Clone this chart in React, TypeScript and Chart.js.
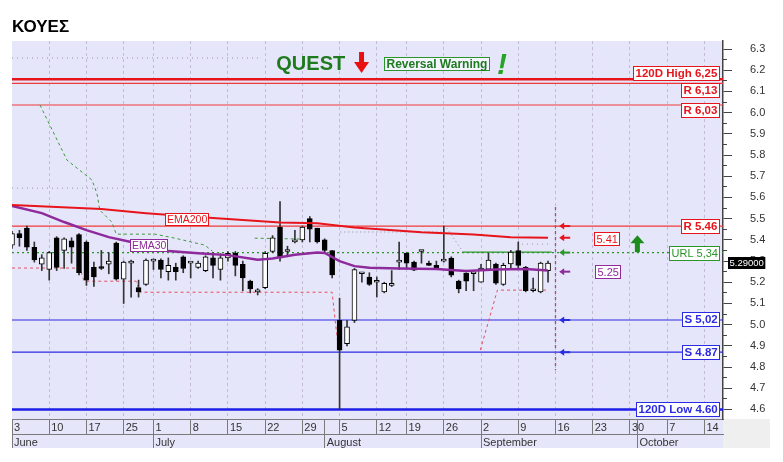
import React, { useEffect, useRef } from 'react';
import { Chart, registerables } from 'chart.js';

Chart.register(...registerables);

// ---------------- data ----------------
const TITLE = 'ΚΟΥΕΣ';

// trading calendar (Athens exchange, 2024)
const FIRST_DAY = '2024-06-03';
const LAST_AXIS_DAY = '2024-10-18';
const HOLIDAYS = ['2024-06-24', '2024-08-15'];
const MONTH_NAMES = ['January', 'February', 'March', 'April', 'May', 'June', 'July', 'August', 'September', 'October', 'November', 'December'];

// daily candles, 3 Jun .. 13 Sep
const open = [5.375, 5.43, 5.455, 5.365, 5.285, 5.26, 5.41, 5.35, 5.395, 5.425,
  5.39, 5.27, 5.27, 5.285, 5.385, 5.215, 5.29, 5.175, 5.19, 5.30,
  5.305, 5.25, 5.27, 5.32, 5.29, 5.27, 5.255, 5.315, 5.26, 5.315,
  5.337, 5.285, 5.205, 5.155, 5.175, 5.345, 5.46, 5.345, 5.39, 5.40,
  5.50, 5.455, 5.40, 5.35, 5.02, 4.91, 5.02, 5.24, 5.225, 5.20,
  5.155, 5.185, 5.295, 5.337, 5.295, 5.345, 5.29, 5.28, 5.30, 5.314,
  5.205, 5.243, 5.24, 5.20, 5.262, 5.286, 5.19, 5.286, 5.35, 5.27,
  5.16, 5.155, 5.255];
const high = [5.44, 5.445, 5.465, 5.39, 5.33, 5.345, 5.415, 5.41, 5.41, 5.43,
  5.395, 5.295, 5.35, 5.34, 5.39, 5.30, 5.305, 5.21, 5.31, 5.31,
  5.31, 5.315, 5.29, 5.325, 5.295, 5.30, 5.325, 5.34, 5.335, 5.345,
  5.345, 5.30, 5.21, 5.17, 5.345, 5.42, 5.58, 5.37, 5.445, 5.465,
  5.51, 5.455, 5.405, 5.35, 5.125, 5.02, 5.265, 5.245, 5.245, 5.225,
  5.20, 5.255, 5.39, 5.34, 5.30, 5.35, 5.30, 5.30, 5.465, 5.32,
  5.21, 5.245, 5.245, 5.285, 5.337, 5.29, 5.29, 5.35, 5.39, 5.275,
  5.22, 5.295, 5.30];
const low = [5.36, 5.37, 5.35, 5.295, 5.255, 5.21, 5.255, 5.265, 5.29, 5.235,
  5.185, 5.18, 5.26, 5.24, 5.21, 5.10, 5.13, 5.13, 5.185, 5.26,
  5.22, 5.21, 5.21, 5.245, 5.22, 5.265, 5.25, 5.22, 5.21, 5.30,
  5.23, 5.16, 5.15, 5.14, 5.17, 5.34, 5.30, 5.32, 5.385, 5.39,
  5.39, 5.385, 5.34, 5.22, 4.60, 4.90, 5.01, 5.20, 5.185, 5.13,
  5.15, 5.18, 5.26, 5.265, 5.255, 5.29, 5.28, 5.26, 5.295, 5.225,
  5.15, 5.16, 5.16, 5.20, 5.255, 5.19, 5.185, 5.265, 5.26, 5.155,
  5.155, 5.15, 5.20];
const close = [5.43, 5.41, 5.365, 5.305, 5.315, 5.34, 5.27, 5.405, 5.365, 5.245,
  5.21, 5.225, 5.265, 5.30, 5.215, 5.295, 5.30, 5.155, 5.305, 5.305,
  5.26, 5.28, 5.25, 5.265, 5.29, 5.29, 5.32, 5.28, 5.315, 5.337,
  5.28, 5.22, 5.168, 5.155, 5.337, 5.41, 5.315, 5.345, 5.40, 5.46,
  5.45, 5.39, 5.35, 5.235, 4.88, 4.99, 5.26, 5.24, 5.19, 5.20,
  5.195, 5.185, 5.30, 5.29, 5.257, 5.345, 5.28, 5.26, 5.30, 5.234,
  5.168, 5.205, 5.24, 5.267, 5.305, 5.196, 5.28, 5.342, 5.28, 5.16,
  5.16, 5.29, 5.29];

// moving averages, [session index, value]
const ema200 = [[0, 5.565], [6, 5.555], [12, 5.545], [18, 5.526], [27, 5.503], [36, 5.482], [41, 5.478],
  [46, 5.458], [55, 5.436], [62, 5.425], [67, 5.412], [72, 5.41]];
const ema30 = [[0, 5.56], [4, 5.526], [7, 5.484], [10, 5.446], [13, 5.413], [16, 5.39], [18, 5.375],
  [21, 5.347], [25, 5.337], [29, 5.328], [33, 5.306], [35, 5.312], [38, 5.33], [41, 5.34], [42, 5.338],
  [44, 5.30], [46, 5.276], [48, 5.268], [52, 5.265], [57, 5.262], [61, 5.253], [65, 5.26], [69, 5.262], [72, 5.256]];

// trailing stops, [session index, value]
const upperStopA = [[3.76, 6.036], [7.39, 5.776], [10.75, 5.682], [11.4, 5.62], [11.8, 5.54], [13.4, 5.484],
  [14.0, 5.427], [19.2, 5.427], [21.9, 5.408], [25.9, 5.375], [26.9, 5.347]];
const upperStopB = [[32.6, 5.408], [38.7, 5.404]];
const upperStopIdle = [[44.1, 5.437], [57.9, 5.437], [58.4, 5.455], [60.6, 5.342]];
const upperStopActive = [[60.6, 5.342], [72.5, 5.342]];
const lowerStopA = [[0, 5.267], [9.13, 5.267], [9.67, 5.205], [16.66, 5.205], [17.2, 5.153], [43.0, 5.153],
  [43.4, 5.021], [43.8, 4.903]];
const lowerStopB = [[62.9, 4.88], [65.2, 5.163], [72.0, 5.163]];
const oldLevelHigh = [[0, 6.258], [33.5, 6.258]];
const oldLevelMid = [[0, 5.644], [43.0, 5.644]];
const oldLevelNow = [[68.5, 5.38], [72.0, 5.38]];

// horizontal levels
const levelNames = ['120D High 6,25', 'R 6,13', 'R 6,03', 'R 5.46', 'URL 5,34', 'S 5,02', 'S 4.87', '120D Low 4.60'];
const levelValues = [6.158, 6.138, 6.036, 5.465, 5.34, 5.022, 4.87, 4.60];

// current values of indicators
const ema200Now = 5.41;
const ema30Now = 5.25;
const signalText = 'QUEST';
const warningText = 'Reversal Warning';

// ---------------- helpers ----------------
const FONT = "'Liberation Sans', Arial, Helvetica, sans-serif";
Chart.defaults.font.family = FONT;

function buildCalendar() {
  const days: Date[] = [];
  let t = Date.parse(FIRST_DAY + 'T00:00:00Z');
  const end = Date.parse(LAST_AXIS_DAY + 'T00:00:00Z');
  while (t <= end) {
    const d = new Date(t);
    const wd = d.getUTCDay();
    const iso = d.toISOString().slice(0, 10);
    if (wd !== 0 && wd !== 6 && !HOLIDAYS.includes(iso)) days.push(d);
    t += 86400000;
  }
  return days;
}

function tag(ctx: CanvasRenderingContext2D, text: string, font: string, color: string, border: string, bg: string,
  xRef: number, align: 'left' | 'right' | 'center', yc: number, padX = 2, h = 14) {
  ctx.font = font;
  const w = Math.round(ctx.measureText(text).width + padX * 2);
  let left = align === 'left' ? xRef : align === 'right' ? xRef - w : xRef - w / 2;
  left = Math.round(left) + 0.5;
  const top = Math.round(yc - h / 2) + 0.5;
  ctx.fillStyle = bg;
  ctx.fillRect(left, top, w, h);
  ctx.strokeStyle = border;
  ctx.lineWidth = 1;
  ctx.strokeRect(left, top, w, h);
  ctx.fillStyle = color;
  ctx.textBaseline = 'middle';
  ctx.textAlign = 'left';
  ctx.fillText(text, left + padX, top + h / 2 + 0.5);
}

function leftArrow(ctx: CanvasRenderingContext2D, xTip: number, yc: number, color: string) {
  ctx.fillStyle = color;
  ctx.beginPath();
  ctx.moveTo(xTip, yc);
  ctx.lineTo(xTip + 5, yc - 3.5);
  ctx.lineTo(xTip + 5, yc + 3.5);
  ctx.closePath();
  ctx.fill();
  ctx.fillRect(xTip + 4, yc - 1, 7, 2);
}

const RED = '#E8141C';
const RED_THIN = '#F03838';
const BLUE = '#2B2BE3';
const GREEN = '#2A962A';
const DKGREEN = '#1D7A1D';
const PURPLE = '#8E2A9C';

export default function App() {
  const ref = useRef<HTMLCanvasElement>(null);

  useEffect(() => {
    const calendar = buildCalendar();
    const sessions = calendar.slice(0, close.length).map((d) => d.toISOString().slice(0, 10));

    const dayTicks: number[] = [];
    const dayLabels = new Map<number, string>();
    const monthTicks: number[] = [];
    const monthLabels = new Map<number, string>();
    calendar.forEach((d, i) => {
      const prev = calendar[i - 1];
      const newWeek = !prev || d.getUTCDay() <= prev.getUTCDay() || d.getTime() - prev.getTime() > 4 * 86400000;
      const newMonth = !prev || d.getUTCMonth() !== prev.getUTCMonth();
      if (newWeek) { dayTicks.push(i); dayLabels.set(i, String(d.getUTCDate())); }
      if (newMonth) { monthTicks.push(i); monthLabels.set(i, MONTH_NAMES[d.getUTCMonth()]); }
    });
    const weekSet = new Set(dayTicks);
    const allDayTicks = Array.from(new Set([...dayTicks, ...monthTicks])).sort((a, b) => a - b);

    const X_MAX = 95.5;
    const Y_MIN = 4.555;
    const Y_MAX = 6.338;

    const wickData = sessions.map((_, i) => ({ x: i, y: [low[i], high[i]] }));
    const bodyData = sessions.map((_, i) => ({ x: i, y: [Math.min(open[i], close[i]), Math.max(open[i], close[i])] }));
    const bodyColors = sessions.map((_, i) => (close[i] >= open[i] ? '#ffffff' : '#000000'));

    const line = (pts: number[][], color: string, width: number, dash: number[], order = 10) => ({
      type: 'line',
      data: pts.map(([x, y]) => ({ x, y })),
      borderColor: color,
      borderWidth: width,
      borderDash: dash,
      pointRadius: 0,
      fill: false,
      tension: 0,
      order,
      xAxisID: 'x',
      yAxisID: 'y',
    });

    const levelStyle = [
      { color: RED, width: 2.5, dash: [] as number[] },
      { color: RED_THIN, width: 1.2, dash: [] },
      { color: RED_THIN, width: 1.2, dash: [] },
      { color: RED_THIN, width: 1.2, dash: [] },
      { color: GREEN, width: 1.2, dash: [2, 3] },
      { color: BLUE, width: 1.2, dash: [] },
      { color: BLUE, width: 1.2, dash: [] },
      { color: '#1E1EE8', width: 2.5, dash: [] },
    ];

    const datasets: any[] = [
      ...levelValues.map((v, k) => line([[0, v], [X_MAX, v]], levelStyle[k].color, levelStyle[k].width, levelStyle[k].dash, 12)),
      line(oldLevelHigh, '#9C90B0', 1, [1, 4], 11),
      line(oldLevelMid, '#9C90B0', 1, [1, 4], 11),
      line(oldLevelNow, '#9C90B0', 1, [1, 4], 11),
      line(upperStopA, '#3C9A3C', 1, [3, 3], 11),
      line(upperStopB, '#3C9A3C', 1, [3, 3], 11),
      line(upperStopIdle, '#8C8C9C', 1, [1, 3], 11),
      line(upperStopActive, '#2A962A', 1.3, [], 11),
      line(lowerStopA, '#E25060', 1, [3, 3], 11),
      line(lowerStopB, '#E25060', 1, [3, 3], 11),
      {
        type: 'bar', data: wickData, backgroundColor: '#333333', borderWidth: 0,
        barThickness: 1, grouped: false, order: 6, xAxisID: 'x', yAxisID: 'y',
      },
      {
        type: 'bar', data: bodyData, backgroundColor: bodyColors, borderColor: '#000000', borderWidth: 1,
        borderSkipped: false, barThickness: 5, minBarLength: 2, grouped: false, order: 5, xAxisID: 'x', yAxisID: 'y',
      },
      line(ema200, RED, 2, [], 2),
      line(ema30, PURPLE, 2.5, [], 2),
      line([[close.length, 5.555], [close.length, 4.785]], '#A0507C', 1.3, [3, 3], 1),
    ];

    const bgPlugin = {
      id: 'bgPlugin',
      beforeDraw(chart: any) {
        const { ctx, chartArea: a } = chart;
        const x2 = chart.scales.x2;
        ctx.save();
        ctx.fillStyle = '#ffffff';
        ctx.fillRect(0, 0, chart.width, chart.height);
        ctx.fillStyle = '#E6E6FA';
        ctx.fillRect(a.left, a.top, a.right - a.left, x2.bottom - a.top);
        ctx.fillStyle = '#EFEFEF';
        ctx.fillRect(a.right, a.bottom, 47, x2.bottom - a.bottom);
        ctx.restore();
      },
    };

    const annoPlugin = {
      id: 'annoPlugin',
      afterDatasetsDraw(chart: any) {
        const { ctx, chartArea: a, scales } = chart;
        const xs = scales.x;
        const ys = scales.y;
        const px = (i: number) => xs.getPixelForValue(i);
        const py = (v: number) => ys.getPixelForValue(v);
        ctx.save();

        // level labels at right edge
        const lvl = [
          { c: RED, b: true, dy: -6.5, pad: 2 },
          { c: RED, b: true, dy: 6.7, pad: 2 },
          { c: RED, b: true, dy: 5, pad: 2 },
          { c: RED, b: true, dy: 0, pad: 2 },
          { c: GREEN, b: false, dy: 0, pad: 2 },
          { c: BLUE, b: true, dy: -1, pad: 2 },
          { c: BLUE, b: true, dy: 0, pad: 2 },
          { c: BLUE, b: true, dy: 0, pad: 2 },
        ];
        levelNames.forEach((t, k) => {
          const s = lvl[k];
          const font = s.b ? `bold 11.5px ${FONT}` : `11px ${FONT}`;
          tag(ctx, t, font, s.c, s.c, '#ffffff', a.right - 4, 'right', py(levelValues[k]) + s.dy, s.pad, 14);
        });

        // small arrows at the projection line
        const ax = px(close.length + 0.5);
        leftArrow(ctx, ax, py(levelValues[3]), RED);
        leftArrow(ctx, ax, py(ema200Now), RED);
        leftArrow(ctx, ax, py(levelValues[4]), GREEN);
        leftArrow(ctx, ax, py(ema30Now), PURPLE);
        leftArrow(ctx, ax, py(levelValues[5]), BLUE);
        leftArrow(ctx, ax, py(levelValues[6]), BLUE);

        // indicator value tags
        tag(ctx, ema200Now.toFixed(2), `11px ${FONT}`, RED, RED, '#ffffff', px(79.8), 'center', py(ema200Now) + 1, 2, 13);
        tag(ctx, ema30Now.toFixed(2), `11px ${FONT}`, PURPLE, PURPLE, '#ffffff', px(80), 'center', py(ema30Now), 2, 13);

        // ema labels on the lines
        tag(ctx, 'EMA200', `10.5px ${FONT}`, RED, RED, '#ffffff', px(23.44), 'center', py(5.498), 1.5, 12);
        tag(ctx, 'EMA30', `10.5px ${FONT}`, PURPLE, PURPLE, '#ffffff', px(18.27), 'center', py(5.375), 1.5, 12);

        // green up arrow
        {
          const cx = px(84);
          const tip = py(5.422);
          const base = py(5.342);
          ctx.fillStyle = '#1C8C1C';
          ctx.beginPath();
          ctx.moveTo(cx, tip);
          ctx.lineTo(cx + 7, tip + 8);
          ctx.lineTo(cx - 7, tip + 8);
          ctx.closePath();
          ctx.fill();
          ctx.fillRect(cx - 2.5, tip + 7, 5, base - tip - 7);
        }

        // top signal annotations
        ctx.font = `bold 20px ${FONT}`;
        ctx.fillStyle = DKGREEN;
        ctx.textBaseline = 'alphabetic';
        ctx.textAlign = 'left';
        ctx.fillText(signalText, px(35.5), py(6.2));
        {
          const cx = px(46.95);
          const t = py(6.286);
          const b = py(6.187);
          ctx.fillStyle = '#E81010';
          ctx.fillRect(cx - 2.5, t, 5, 11);
          ctx.beginPath();
          ctx.moveTo(cx - 7.5, t + 10);
          ctx.lineTo(cx + 7.5, t + 10);
          ctx.lineTo(cx, b);
          ctx.closePath();
          ctx.fill();
        }
        tag(ctx, warningText, `bold 12px ${FONT}`, DKGREEN, GREEN, '#F4F4FF', px(50), 'left', py(6.232), 2, 13);
        ctx.font = `italic bold 30px ${FONT}`;
        ctx.fillStyle = '#27A327';
        ctx.textAlign = 'center';
        ctx.textBaseline = 'alphabetic';
        ctx.fillText('!', px(65.8), py(6.18));

        // last price tag on the axis
        {
          ctx.font = `9.5px ${FONT}`;
          const t = close[close.length - 1].toFixed(5);
          const w = ctx.measureText(t).width + 3;
          const yc = py(close[close.length - 1]);
          const left = ys.left + 5;
          ctx.fillStyle = '#000000';
          ctx.fillRect(left, Math.round(yc - 6), w, 12);
          ctx.fillStyle = '#ffffff';
          ctx.textAlign = 'left';
          ctx.textBaseline = 'middle';
          ctx.fillText(t, left + 1.5, Math.round(yc - 6) + 6.5);
        }
        ctx.restore();
      },
    };

    const cfg: any = {
      type: 'bar',
      data: { datasets },
      options: {
        animation: false,
        responsive: true,
        maintainAspectRatio: false,
        devicePixelRatio: 1,
        layout: { padding: { left: 12, right: 15, top: 0, bottom: 14 } },
        plugins: {
          legend: { display: false },
          tooltip: { enabled: false },
          title: {
            display: true,
            text: TITLE,
            align: 'start',
            color: '#000000',
            font: { size: 17, weight: 'bold', family: FONT },
            padding: { top: 17, bottom: 3.6 },
          },
        },
        scales: {
          x: {
            type: 'linear',
            position: 'bottom',
            weight: 0,
            min: 0,
            max: X_MAX,
            offset: false,
            afterBuildTicks: (s: any) => { s.ticks = allDayTicks.map((v) => ({ value: v })); },
            afterFit: (s: any) => { s.height = 15; },
            grid: {
              display: true,
              drawOnChartArea: true,
              drawTicks: true,
              tickLength: 15,
              offset: false,
              lineWidth: 1,
              color: (c: any) => (c.tick && weekSet.has(c.tick.value) && c.tick.value !== 0 ? '#C2BAD6' : 'rgba(0,0,0,0)'),
              tickColor: '#7A7A7A',
            },
            border: { display: true, color: '#7A7A7A', width: 1, dash: [3, 3] },
            ticks: {
              autoSkip: false,
              maxRotation: 0,
              minRotation: 0,
              align: 'start',
              padding: -13,
              labelOffset: 2,
              color: '#333333',
              font: { size: 11 },
              callback: (v: any) => dayLabels.get(Math.round(v)) ?? '',
            },
          },
          x2: {
            type: 'linear',
            position: 'bottom',
            weight: 1,
            min: 0,
            max: X_MAX,
            offset: false,
            afterBuildTicks: (s: any) => { s.ticks = monthTicks.map((v) => ({ value: v })); },
            afterFit: (s: any) => { s.height = 14; },
            grid: { display: true, offset: false, drawOnChartArea: false, drawTicks: true, tickLength: 14, tickColor: '#7A7A7A' },
            border: { display: true, color: '#7A7A7A', width: 1 },
            ticks: {
              autoSkip: false,
              maxRotation: 0,
              minRotation: 0,
              align: 'start',
              padding: -12,
              labelOffset: 2,
              color: '#333333',
              font: { size: 11 },
              callback: (v: any) => monthLabels.get(Math.round(v)) ?? '',
            },
          },
          yMinor: {
            type: 'linear',
            position: 'right',
            weight: 0,
            min: Y_MIN,
            max: Y_MAX,
            afterBuildTicks: (s: any) => {
              const t = [];
              for (let k = 46; k <= 62; k++) t.push({ value: (2 * k + 1) / 20 });
              s.ticks = t;
            },
            afterFit: (s: any) => { s.width = 0; },
            grid: { display: true, drawOnChartArea: false, drawTicks: true, tickLength: 4, tickColor: '#444444' },
            border: { display: false },
            ticks: { display: false },
          },
          y: {
            type: 'linear',
            position: 'right',
            weight: 1,
            min: Y_MIN,
            max: Y_MAX,
            beginAtZero: false,
            afterBuildTicks: (s: any) => {
              const t = [];
              for (let k = 46; k <= 63; k++) t.push({ value: k / 10 });
              s.ticks = t;
            },
            afterFit: (s: any) => { s.width = 45; },
            grid: { display: true, drawOnChartArea: false, drawTicks: true, tickLength: 9, tickColor: '#444444' },
            border: { display: true, color: '#444444', width: 1.5 },
            ticks: {
              padding: 18,
              color: '#333333',
              font: { size: 11 },
              callback: (v: any) => Number(v).toFixed(1),
            },
          },
        },
      },
      plugins: [bgPlugin, annoPlugin],
    };

    const chart = new Chart(ref.current as HTMLCanvasElement, cfg);
    return () => chart.destroy();
  }, []);

  return (
    <div style={{ position: 'fixed', left: 0, top: 0, width: 783, height: 462, background: '#ffffff' }}>
      <canvas ref={ref} />
    </div>
  );
}
